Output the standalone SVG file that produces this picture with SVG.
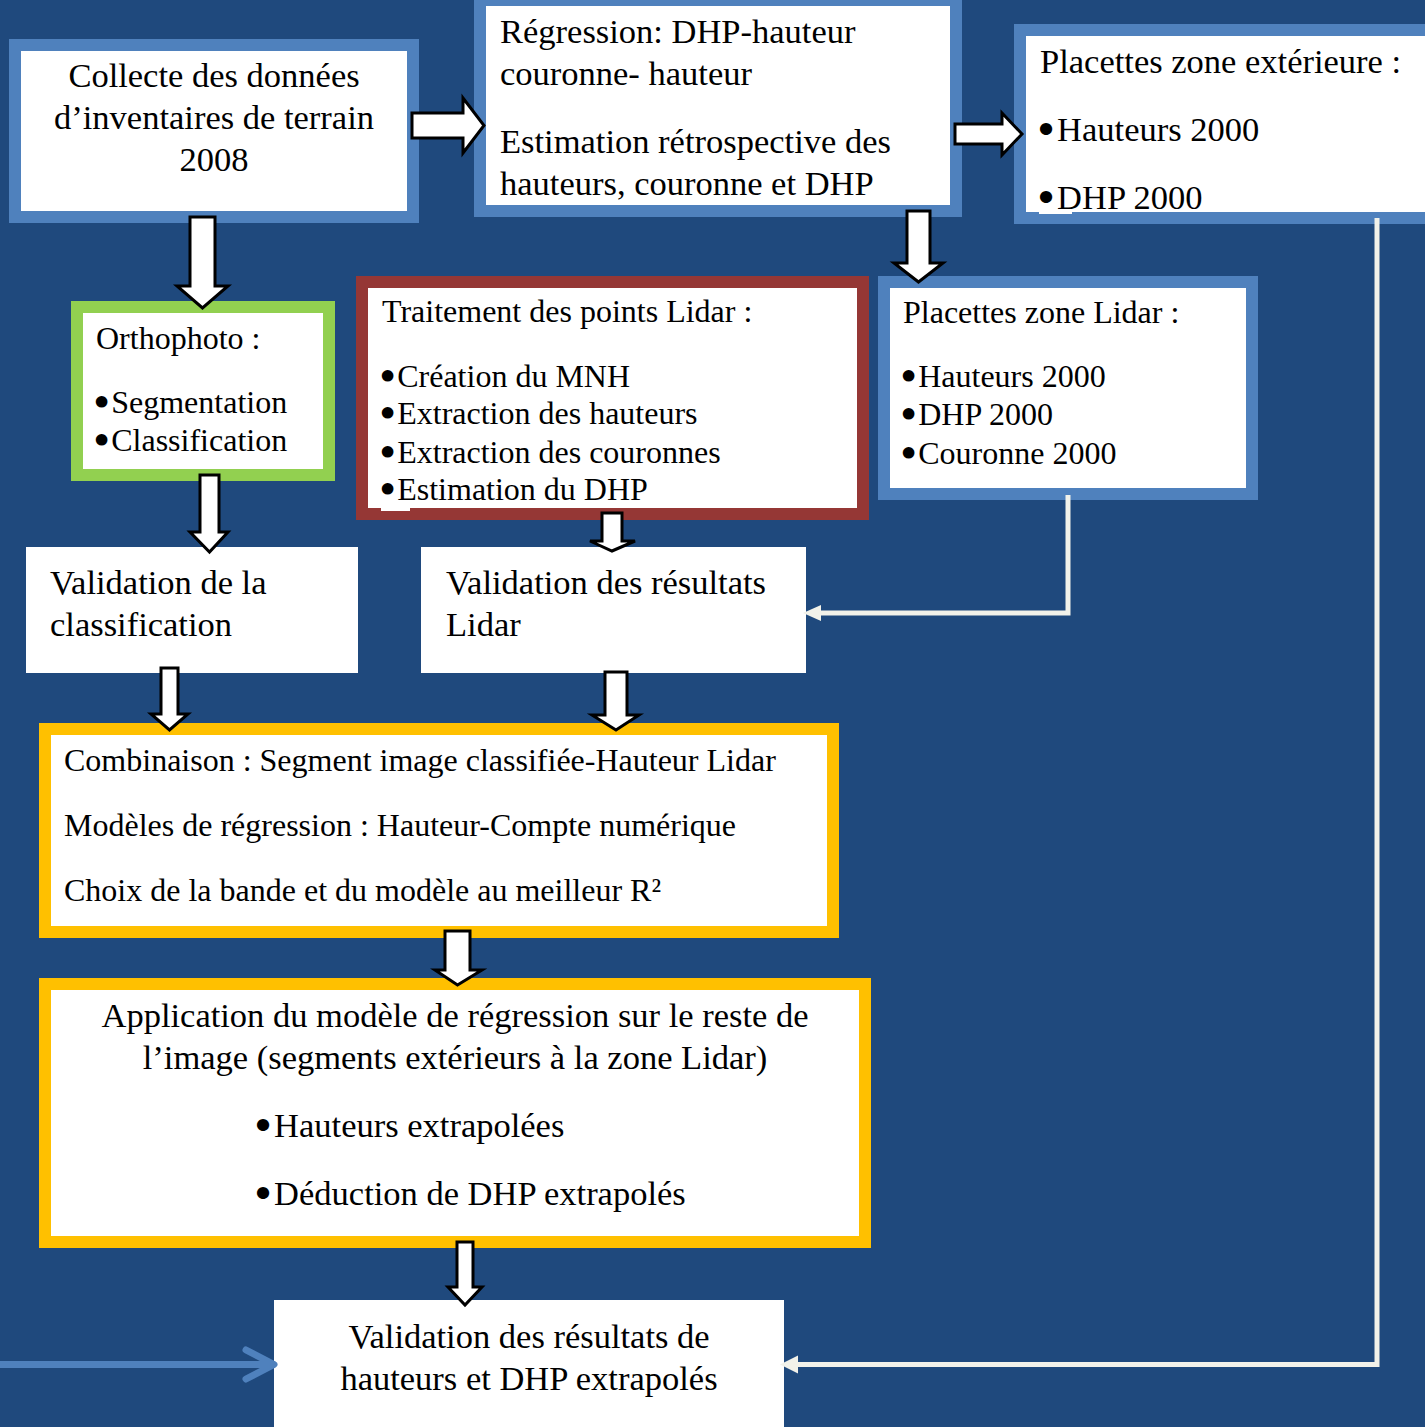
<svg xmlns="http://www.w3.org/2000/svg" width="1425" height="1427" viewBox="0 0 1425 1427">
<defs>
<style>
.t{font-family:"Liberation Serif","Times New Roman",serif;fill:#000}
.s34{font-size:34.5px}
.s32{font-size:32px}
.c{text-anchor:middle}
.b{stroke:#000;stroke-width:4;stroke-linejoin:round}
.bx{fill:#fff;stroke-width:12}
.blue{stroke:#4F81BD}
.green{stroke:#92D050}
.red{stroke:#953735}
.yel{stroke:#FFC000}
.plain{fill:#fff}
.ba{fill:#fff;stroke:#000;stroke-width:3;stroke-linejoin:miter}
.con{fill:none;stroke:#F2F2EA;stroke-width:5}
</style>
</defs>
<rect width="1425" height="1427" fill="#1F497D"/>

<g id="n-collecte">
<rect class="bx blue" x="15" y="45" width="398" height="172"/>
<text class="t s34 c" x="214" y="87">Collecte des données</text>
<text class="t s34 c" x="214" y="129">d’inventaires de terrain</text>
<text class="t s34 c" x="214" y="171">2008</text>
</g>

<g id="n-regression">
<rect class="bx blue" x="480" y="0" width="476" height="211"/>
<text class="t s34" x="500" y="43">Régression: DHP-hauteur</text>
<text class="t s34" x="500" y="85">couronne- hauteur</text>
<text class="t s34" x="500" y="153">Estimation rétrospective des</text>
<text class="t s34" x="500" y="195">hauteurs, couronne et DHP</text>
</g>

<g id="n-ext">
<rect x="1020" y="30" width="420" height="188" fill="#fff"/>
<text class="t s34" x="1040" y="73">Placettes zone extérieure :</text>
<text class="t s34" x="1040" y="141"><tspan class="b">•</tspan><tspan dx="5">Hauteurs 2000</tspan></text>
<text class="t s34" x="1040" y="209"><tspan class="b">•</tspan><tspan dx="5">DHP 2000</tspan></text>
<rect x="1020" y="30" width="420" height="188" fill="none" stroke="#4F81BD" stroke-width="12"/>
<rect x="1039" y="211" width="33" height="3" fill="#fff"/>
</g>

<g id="n-ortho">
<rect class="bx green" x="77" y="307" width="252" height="168"/>
<text class="t s32" x="96" y="349">Orthophoto :</text>
<text class="t s32" x="96" y="413"><tspan class="b">•</tspan><tspan dx="4">Segmentation</tspan></text>
<text class="t s32" x="96" y="451"><tspan class="b">•</tspan><tspan dx="4">Classification</tspan></text>
</g>

<g id="n-traitement">
<rect class="bx red" x="362" y="282" width="501" height="232"/>
<text class="t s32" x="382" y="322">Traitement des points Lidar :</text>
<text class="t s32" x="382" y="387"><tspan class="b">•</tspan><tspan dx="4">Création du MNH</tspan></text>
<text class="t s32" x="382" y="424"><tspan class="b">•</tspan><tspan dx="4">Extraction des hauteurs</tspan></text>
<text class="t s32" x="382" y="463"><tspan class="b">•</tspan><tspan dx="4">Extraction des couronnes</tspan></text>
<text class="t s32" x="382" y="500"><tspan class="b">•</tspan><tspan dx="4">Estimation du DHP</tspan></text>
<rect x="381" y="508" width="29" height="3" fill="#fff"/>
</g>

<g id="n-lidar">
<rect class="bx blue" x="884" y="282" width="368" height="212"/>
<text class="t s32" x="903" y="323">Placettes zone Lidar :</text>
<text class="t s32" x="903" y="387"><tspan class="b">•</tspan><tspan dx="4">Hauteurs 2000</tspan></text>
<text class="t s32" x="903" y="425"><tspan class="b">•</tspan><tspan dx="4">DHP 2000</tspan></text>
<text class="t s32" x="903" y="464"><tspan class="b">•</tspan><tspan dx="4">Couronne 2000</tspan></text>
</g>

<g id="n-valclass">
<rect class="plain" x="26" y="547" width="332" height="126"/>
<text class="t s34" x="50" y="594">Validation de la</text>
<text class="t s34" x="50" y="636">classification</text>
</g>

<g id="n-vallidar">
<rect class="plain" x="421" y="547" width="385" height="126"/>
<text class="t s34" x="446" y="594">Validation des résultats</text>
<text class="t s34" x="446" y="636">Lidar</text>
</g>

<g id="n-combinaison">
<rect class="bx yel" x="45" y="729" width="788" height="203"/>
<text class="t s32" x="64" y="771">Combinaison : Segment image classifiée-Hauteur Lidar</text>
<text class="t s32" x="64" y="836">Modèles de régression : Hauteur-Compte numérique</text>
<text class="t s32" x="64" y="901">Choix de la bande et du modèle au meilleur R²</text>
</g>

<g id="n-application">
<rect class="bx yel" x="45" y="984" width="820" height="258"/>
<text class="t s34 c" x="455" y="1027">Application du modèle de régression sur le reste de</text>
<text class="t s34 c" x="455" y="1069">l’image (segments extérieurs à la zone Lidar)</text>
<text class="t s34" x="257" y="1137"><tspan class="b">•</tspan><tspan dx="5">Hauteurs extrapolées</tspan></text>
<text class="t s34" x="257" y="1205"><tspan class="b">•</tspan><tspan dx="5">Déduction de DHP extrapolés</tspan></text>
</g>

<g id="n-valfinale">
<rect class="plain" x="274" y="1300" width="510" height="140"/>
<text class="t s34 c" x="529" y="1348">Validation des résultats de</text>
<text class="t s34 c" x="529" y="1390">hauteurs et DHP extrapolés</text>
</g>

<g id="connectors">
<path class="ba" d="M412,113 H463 V98 L484,125.5 L463,153 V138 H412 Z"/>
<path class="ba" d="M955,124 H1002 V113 L1022,134 L1002,155 V144 H955 Z"/>
<path class="ba" d="M190,217 H215 V286 H228 L202.5,308 L177,286 H190 Z"/>
<path class="ba" d="M907,211 H930 V263 H943 L918.5,282 L894,263 H907 Z"/>
<path class="ba" d="M200,475 H219 V532 H228 L209.5,552 L190,532 H200 Z"/>
<path class="ba" d="M602,513 H622 V541 H635 L612,551 L590,541 H602 Z"/>
<path class="ba" d="M161,668 H178 V714 H188 L169.5,730 L151,714 H161 Z"/>
<path class="ba" d="M605,672 H627 V715 H639 L616,730 L592,715 H605 Z"/>
<path class="ba" d="M445,931 H470 V970 H482 L457.5,985 L435,970 H445 Z"/>
<path class="ba" d="M457,1242 H473 V1287 H482 L465,1305 L448,1287 H457 Z"/>
<path class="con" d="M1068,495 V613 H820"/>
<path d="M803,613 L821,605 L821,621 Z" fill="#F2F2EA"/>
<path class="con" d="M1377,218 V1364.5 H797"/>
<path d="M780,1364.5 L798,1355.5 L798,1373.5 Z" fill="#F2F2EA"/>
<path d="M0,1364.5 H272 M246,1350 L274,1364.5 L246,1379" fill="none" stroke="#4F81BD" stroke-width="7" stroke-linecap="round" stroke-linejoin="round"/>
</g>
</svg>
